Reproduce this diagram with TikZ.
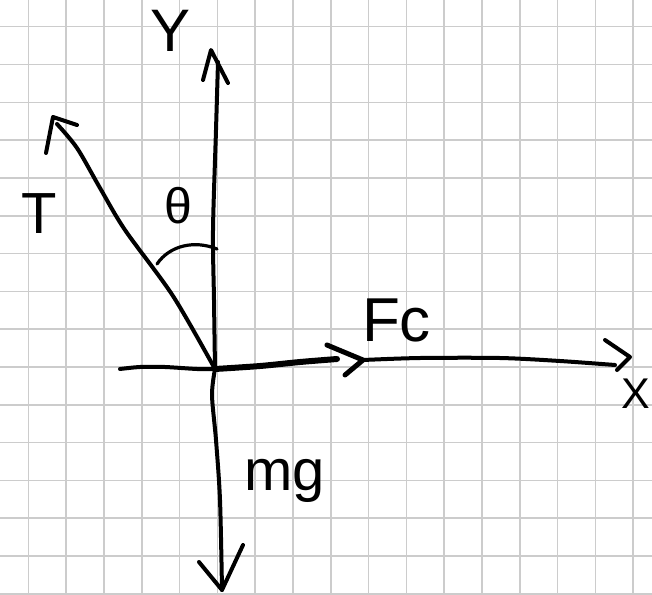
\documentclass[tikz,border=0pt]{standalone}
\usepackage{fontspec}
\setmainfont{Liberation Sans}
\begin{document}
\begin{tikzpicture}[x=1pt,y=-1pt,
  gridline/.style={draw=black!20,line width=1.6pt},
  pen/.style={draw=black,line width=4pt,line cap=round,line join=round},
  heavypen/.style={draw=black,line width=6pt,line cap=round,line join=round},
  lbl/.style={inner sep=0pt,outer sep=0pt,text=black}]
\useasboundingbox (0,0) rectangle (652,594);
\begin{scope}
\clip (0,0) rectangle (652,594);
\foreach \k in {0,...,16} {\draw[gridline] ({28.3+37.8*\k},0) -- ({28.3+37.8*\k},594);}
\foreach \k in {0,...,15} {\draw[gridline] (0,{26.7+37.8*\k}) -- (652,{26.7+37.8*\k});}
\end{scope}
% key points
\coordinate (O) at (215,369);
\coordinate (ytip) at (211,50);
\coordinate (ytop) at (218,62);
\coordinate (dtip) at (222,590);
\coordinate (xleft) at (120,369);
\coordinate (fctip) at (363,360);
\coordinate (fcend) at (337,359);
\coordinate (xtip) at (630,357);
\coordinate (xend) at (615,365);
\coordinate (ttip) at (53,117);
\coordinate (tend) at (57,124);
% y axis (up)
\draw[pen] plot[smooth] coordinates {(O) (214,300) (213,230) (216,130) (ytop)};
\draw[pen] (203,80) -- (ytip) -- (228,83);
% down (mg)
\draw[pen] plot[smooth] coordinates {(O) (212,395) (216,440) (220,500) (dtip)};
\draw[pen] (199,562) -- (dtip) -- (243,545);
% x axis left part
\draw[pen] plot[smooth] coordinates {(xleft) (140,367) (165,367) (197,369) (O)};
% Fc arrow
\draw[heavypen] plot[smooth] coordinates {(O) (260,366) (300,362) (fcend)};
\draw[pen,line width=5pt] (327,345) -- (fctip) -- (345,375);
% x axis continuation
\draw[pen] plot[smooth] coordinates {(fctip) (420,358) (500,358) (560,361) (xend)};
\draw[pen] (605,340) -- (xtip) -- (617,370);
% tension T
\draw[pen] plot[smooth] coordinates {(O) (173,296) (125,230) (100,188) (77,148) (tend)};
\draw[pen] (46,153) -- (ttip) -- (77,125);
% angle arc
\coordinate (arcA) at (157,264);
\coordinate (arcB) at (217,249);
\draw[pen,line width=3.2pt] (arcA) .. controls (170,245) and (195,240) .. (arcB);
% labels
\node[lbl,anchor=base] (ylab) at (171,52) {\fontsize{60}{60}\selectfont Y};
\node[lbl,anchor=base] (tlab) at (39,233) {\fontsize{58}{58}\selectfont T};
\node[lbl,anchor=base] (thlab) at (178,223) {\fontsize{50}{50}\selectfont θ};
\node[lbl,anchor=base west] (fclab) at (362,341) {\fontsize{62}{62}\selectfont Fc};
\node[lbl,anchor=base west] (mglab) at (244,490) {\fontsize{58}{58}\selectfont mg};
\node[lbl,anchor=base] (xlab) at (636,408) {\fontsize{43}{43}\selectfont X};
\end{tikzpicture}
\end{document}
